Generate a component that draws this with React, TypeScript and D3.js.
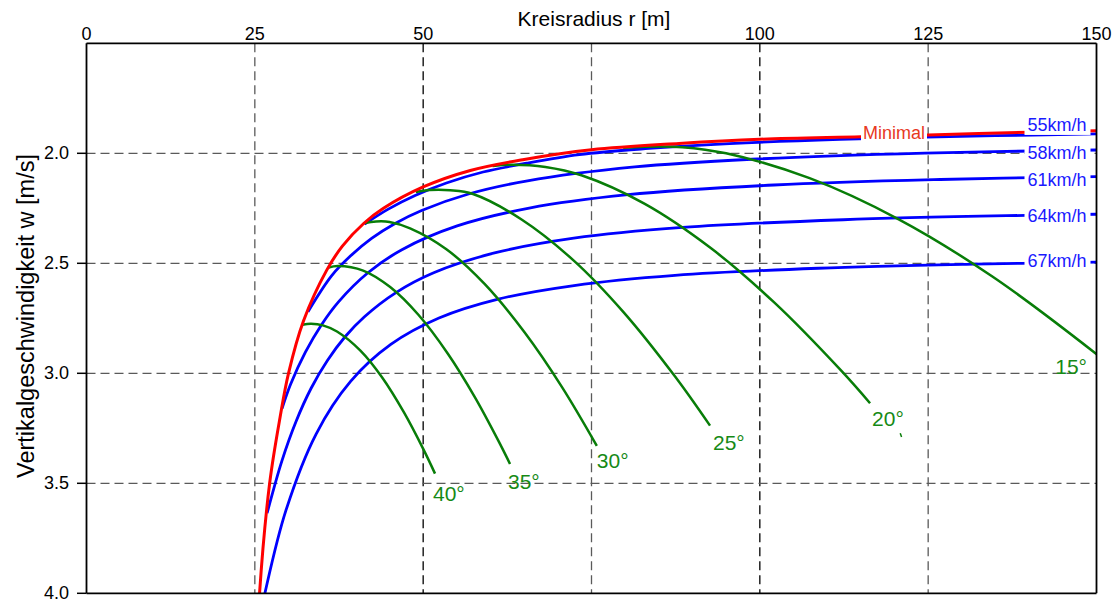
import React from "react";
import * as d3 from "d3";

type Pt = [number, number];

// Axis ticks / grid
const xTickValues = [0, 25, 50, 100, 125, 150];
const xGridValues = [25, 50, 75, 100, 125];
const yTickValues = [2.0, 2.5, 3.0, 3.5, 4.0];
const yGridValues = [2.0, 2.5, 3.0, 3.5];

// Minimal sink envelope (radius m, sink m/s)
const minimalCurve: Pt[] = [
  [25.55, 4.1], [25.7, 4.0], [27.2, 3.5], [28.75, 3.2], [30.0, 3.0], [32.25, 2.76],
  [35.7, 2.53], [38.0, 2.422], [41.2, 2.318], [44.1, 2.25], [50.0, 2.153], [57.0, 2.078],
  [65.0, 2.028], [75.0, 1.984], [88.0, 1.955], [100.0, 1.936], [115.0, 1.925],
  [125.0, 1.917], [140.0, 1.904], [150.0, 1.897],
];

// Constant-speed curves
const speed55: Pt[] = [
  [41.3, 2.322], [44.75, 2.255], [48.8, 2.192], [53.45, 2.135], [58.9, 2.085], [65.4, 2.045],
  [73.2, 2.006], [83.0, 1.979], [95.5, 1.956], [111.9, 1.937], [135.0, 1.92], [150.0, 1.912],
];
const speed58: Pt[] = [
  [32.9, 2.72], [36.42, 2.556], [39.23, 2.466], [42.34, 2.387], [45.83, 2.319], [49.77, 2.26],
  [56.74, 2.185], [65.5, 2.125], [81.44, 2.062], [98.77, 2.027], [124.5, 1.999], [150.0, 1.985],
];
const speed61: Pt[] = [
  [29.04, 3.16], [30.31, 3.05], [32.51, 2.904], [34.88, 2.78], [37.46, 2.674], [41.8, 2.543],
  [46.84, 2.438], [55.05, 2.33], [65.75, 2.249], [80.41, 2.188], [102.1, 2.144], [126.8, 2.119],
  [150.0, 2.106],
];
const speed64: Pt[] = [
  [26.82, 3.636], [29.01, 3.399], [31.12, 3.219], [33.36, 3.068], [35.78, 2.942], [38.4, 2.834],
  [41.24, 2.744], [46.02, 2.632], [51.56, 2.543], [60.6, 2.453], [72.37, 2.386], [88.52, 2.337],
  [112.38, 2.302], [139.5, 2.282], [150.0, 2.277],
];
const speed67: Pt[] = [
  [25.65, 4.131], [26.61, 3.984], [29.63, 3.622], [34.1, 3.276], [39.22, 3.037], [45.19, 2.869],
  [52.35, 2.749], [61.15, 2.663], [72.4, 2.601], [87.4, 2.555], [108.68, 2.5225], [131.8, 2.504],
  [150.0, 2.495],
];
const speedLabels = ["55km/h", "58km/h", "61km/h", "64km/h", "67km/h"];

// Constant bank-angle curves
const bank40: Pt[] = [
  [32.07, 2.779], [33.35, 2.775], [35.11, 2.782], [37.2, 2.81], [40.68, 2.897], [43.86, 3.017],
  [47.15, 3.178], [50.06, 3.347], [51.76, 3.456],
];
const bank35: Pt[] = [
  [35.94, 2.519], [37.36, 2.512], [41.09, 2.533], [45.1, 2.608], [49.29, 2.734], [53.67, 2.911],
  [57.65, 3.107], [61.18, 3.307], [62.9, 3.412],
];
const bank30: Pt[] = [
  [41.22, 2.318], [43.0, 2.31], [45.0, 2.312], [48.06, 2.341], [53.45, 2.436], [59.12, 2.594],
  [65.08, 2.815], [70.62, 3.063], [75.79, 3.33],
];
const bank25: Pt[] = [
  [48.9, 2.176], [51.0, 2.167], [54.0, 2.168], [57.4, 2.185], [64.67, 2.302], [72.41, 2.489],
  [79.75, 2.722], [87.44, 3.016], [92.6, 3.238],
];
const bank20: Pt[] = [
  [60.3, 2.058], [63.0, 2.052], [68.15, 2.062], [73.5, 2.1], [82.85, 2.229], [92.76, 2.432],
  [102.17, 2.679], [112.02, 2.986], [116.37, 3.136],
];
const bank15: Pt[] = [
  [79.7, 1.975], [82.8, 1.97], [88.49, 1.972], [94.99, 2.0], [107.39, 2.113], [120.56, 2.299],
  [134.48, 2.559], [149.93, 2.911], [152.2, 2.968],
];
const bankLabels = ["40°", "35°", "30°", "25°", "20°", "15°"];
const strayMark: Pt[] = [[120.85, 3.273], [121.05, 3.29]];

const FONT = "'Liberation Sans', Arial, Helvetica, sans-serif";

export default function App() {
  const W = 1120;
  const H = 600;
  const left = 86.5, right = 1096.5, top = 43.3, bottom = 593.3;

  const x = d3.scaleLinear().domain([0, 150]).range([left, right]);
  const y = d3.scaleLinear().domain([1.5, 4.0]).range([top, bottom]);
  const line = d3
    .line<Pt>()
    .x((d) => x(d[0]))
    .y((d) => y(d[1]))
    .curve(d3.curveCatmullRom.alpha(0.5));

  const speeds = [speed55, speed58, speed61, speed64, speed67];
  const banks = [bank40, bank35, bank30, bank25, bank20, bank15];

  // label placement styling
  const speedLabelNudge = [-9, 3, 2.6, 1.8, -2];
  const bankLabelOffset: [number, number, "start" | "end"][] = [
    [-2, 27, "start"],
    [-2, 25, "start"],
    [0, 22, "start"],
    [3, 24, "start"],
    [2, 23, "start"],
    [-9.5, 20, "end"],
  ];

  const blue = "#0000ff";
  const red = "#ff0000";
  const green = "#087d08";

  return (
    <svg
      width={W}
      height={H}
      style={{ position: "absolute", left: 0, top: 0, background: "#fff" }}
      fontFamily={FONT}
    >
      <defs>
        <clipPath id="plotClip">
          <rect x={left} y={top} width={right - left} height={bottom - top} />
        </clipPath>
      </defs>
      <rect x={0} y={0} width={W} height={H} fill="#fff" />

      {/* grid */}
      {xGridValues.map((v) => (
        <line
          key={"gx" + v}
          x1={x(v)}
          x2={x(v)}
          y1={top}
          y2={bottom}
          stroke={v === 50 || v === 100 ? "#000" : "#5a5a5a"}
          strokeWidth={1.3}
          strokeDasharray="9,5"
        />
      ))}
      {yGridValues.map((v) => (
        <line
          key={"gy" + v}
          x1={left}
          x2={right}
          y1={y(v)}
          y2={y(v)}
          stroke="#5a5a5a"
          strokeWidth={1.3}
          strokeDasharray="9,5"
        />
      ))}

      {/* curves */}
      <g clipPath="url(#plotClip)" fill="none" strokeLinecap="butt" strokeLinejoin="round">
        {speeds.map((s, i) => (
          <path key={"s" + i} d={line(s) || ""} stroke={blue} strokeWidth={2.8} />
        ))}
        {banks.map((b, i) => (
          <path key={"b" + i} d={line(b) || ""} stroke={green} strokeWidth={2.5} />
        ))}
        <path d={line(strayMark) || ""} stroke={green} strokeWidth={1.5} />
        <path d={line(minimalCurve) || ""} stroke={red} strokeWidth={3} />
      </g>

      {/* Minimal label */}
      <g>
        <rect x={861} y={124} width={66} height={19} fill="#fff" />
        <text x={894} y={139} fontSize={18} fill="#e8391f" textAnchor="middle">
          Minimal
        </text>
      </g>

      {/* speed labels */}
      {speeds.map((s, i) => {
        const last = s[s.length - 1];
        const cy = y(last[1]) + speedLabelNudge[i];
        return (
          <g key={"sl" + i}>
            <rect x={x(150) - 72} y={cy - 10} width={66} height={20} fill="#fff" />
            <text x={x(150) - 69} y={cy + 6.4} fontSize={18} fill="#1a1aff">
              {speedLabels[i]}
            </text>
          </g>
        );
      })}

      {/* bank labels */}
      {banks.map((b, i) => {
        const endPt = b[i === 5 ? b.length - 2 : b.length - 1];
        const [dx, dy, anchor] = bankLabelOffset[i];
        const px = i === 5 ? x(150) : x(endPt[0]);
        return (
          <text
            key={"bl" + i}
            x={px + dx}
            y={y(endPt[1]) + dy}
            fontSize={21}
            fill="#168a16"
            textAnchor={anchor}
          >
            {bankLabels[i]}
          </text>
        );
      })}

      {/* frame */}
      <g stroke="#000" strokeWidth={1.8} fill="none">
        <line x1={left} x2={right} y1={top} y2={top} />
        <line x1={left} x2={left} y1={top} y2={bottom} />
        <line x1={right} x2={right} y1={top} y2={bottom} />
        <line x1={left} x2={right} y1={bottom} y2={bottom} />
      </g>

      {/* x axis (top) */}
      {xTickValues.map((v) => (
        <text key={"xt" + v} x={x(v)} y={40} fontSize={18} textAnchor="middle" fill="#000">
          {v}
        </text>
      ))}
      <text x={594} y={26} fontSize={21} textAnchor="middle" fill="#000">
        Kreisradius r [m]
      </text>

      {/* y axis (left) */}
      {yTickValues.map((v) => (
        <g key={"yt" + v}>
          <line x1={left - 9.5} x2={left} y1={y(v)} y2={y(v)} stroke="#000" strokeWidth={1.5} />
          <text x={69} y={y(v) + 6} fontSize={18} textAnchor="end" fill="#000">
            {v.toFixed(1)}
          </text>
        </g>
      ))}
      <text
        transform={`translate(34, 316) rotate(-90)`}
        fontSize={23.5}
        textAnchor="middle"
        fill="#000"
      >
        Vertikalgeschwindigkeit w [m/s]
      </text>
    </svg>
  );
}
